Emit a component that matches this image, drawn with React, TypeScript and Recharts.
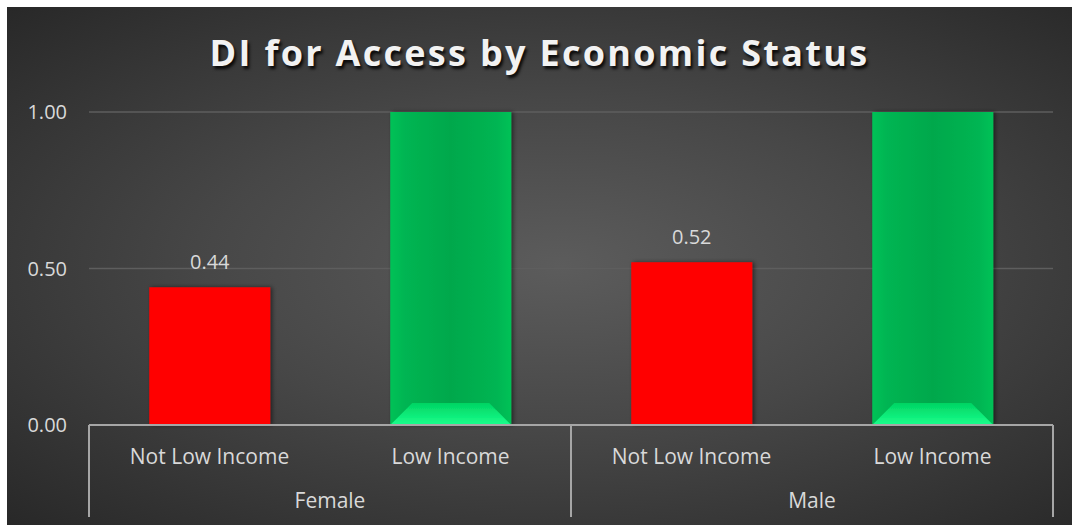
import { BarChart, Bar, XAxis, YAxis, CartesianGrid, Cell, LabelList } from 'recharts';

const incomeLabels = ['Not Low Income', 'Low Income', 'Not Low Income', 'Low Income'];
const genderLabels = ['Female', 'Female', 'Male', 'Male'];
const diValues = [0.44, 1.0, 0.52, 1.0];
const yTicks = [0, 0.5, 1];

const data = incomeLabels.map((income, i) => ({
  income,
  gender: genderLabels[i],
  di: diValues[i],
}));

const FONT = '"Open Sans", sans-serif';
const TEXT = '#d9d9d9';
const LINE = '#a6a6a6';

// bar with the Excel-ish bevel on the green ones
function BevelBar(props: any) {
  const { x, y, width, height, payload } = props;
  if (!height || height <= 0) return null;
  if (payload.di < 1) {
    return <rect x={x} y={y} width={width} height={height} fill="#ff0000" filter="url(#barShadow)" />;
  }
  const bev = 22;
  const by = y + height;
  return (
    <g filter="url(#barShadow)">
      <rect x={x} y={y} width={width} height={height} fill="url(#greenBody)" />
      <polygon
        points={`${x},${by} ${x + width},${by} ${x + width - bev},${by - bev} ${x + bev},${by - bev}`}
        fill="url(#greenBevel)"
      />
    </g>
  );
}

function TwoLevelTick(props: any) {
  const { x, y, payload, index } = props;
  const off = payload?.offset || 120;
  const group = genderLabels[index];
  const isLast = index === incomeLabels.length - 1 || genderLabels[index + 1] !== group;
  return (
    <g>
      <text x={x} y={y + 39} textAnchor="middle" fill={TEXT} fontSize={21} fontFamily={FONT}>
        {payload.value}
      </text>
      {index === 0 && <line x1={x - off} x2={x - off} y1={y} y2={y + 92} stroke={LINE} strokeWidth={2} />}
      {isLast && (
        <>
          <line x1={x + off} x2={x + off} y1={y} y2={y + 92} stroke={LINE} strokeWidth={2} />
          <text x={x - off} y={y + 83} textAnchor="middle" fill={TEXT} fontSize={21} fontFamily={FONT}>
            {group}
          </text>
        </>
      )}
    </g>
  );
}

function ValueLabel(props: any) {
  const { x, y, width, value } = props;
  if (value >= 1) return null;
  return (
    <text x={x + width / 2} y={y - 18} textAnchor="middle" fill={TEXT} fontSize={20} fontFamily={FONT}>
      {Number(value).toFixed(2)}
    </text>
  );
}

export default function App() {
  return (
    <div style={{ position: 'absolute', left: 0, top: 0, width: 1072, height: 527, background: '#fff' }}>
      <div
        style={{
          position: 'absolute',
          left: 7,
          top: 7,
          width: 1065,
          height: 518,
          background: 'radial-gradient(ellipse at 52% 50%, #5c5c5c 0%, #474747 45%, #282828 100%)',
        }}
      >
        <div
          style={{
            position: 'absolute',
            left: 0,
            width: 1065,
            top: 21,
            textAlign: 'center',
            fontFamily: FONT,
            fontWeight: 700,
            fontSize: 36,
            letterSpacing: 2.3,
            color: '#f2f2f2',
            textShadow: '2px 3px 3px rgba(0,0,0,0.85)',
          }}
        >
          DI for Access by Economic Status
        </div>
        <BarChart
          width={1065}
          height={518}
          data={data}
          margin={{ top: 105, right: 19, bottom: 7, left: 22 }}
          barCategoryGap="25%"
          style={{ position: 'absolute', left: 0, top: 0 }}
        >
          <defs>
            <linearGradient id="greenBody" x1="0" y1="0" x2="1" y2="0">
              <stop offset="0%" stopColor="#00c257" />
              <stop offset="12%" stopColor="#00b552" />
              <stop offset="50%" stopColor="#00a84c" />
              <stop offset="88%" stopColor="#00b552" />
              <stop offset="100%" stopColor="#00c257" />
            </linearGradient>
            <linearGradient id="greenBevel" x1="0" y1="0" x2="0" y2="1">
              <stop offset="0%" stopColor="#00d463" />
              <stop offset="100%" stopColor="#1aff8c" />
            </linearGradient>
            <filter id="barShadow" x="-10%" y="-10%" width="130%" height="130%">
              <feDropShadow dx="2" dy="0" stdDeviation="2" floodColor="#000" floodOpacity="0.5" />
            </filter>
          </defs>
          <CartesianGrid vertical={false} stroke="#5e5e5e" strokeWidth={1.5} />
          <XAxis
            dataKey="income"
            height={93}
            tickLine={false}
            tickSize={0}
            tickMargin={0}
            interval={0}
            axisLine={{ stroke: LINE, strokeWidth: 2 }}
            tick={<TwoLevelTick />}
          />
          <YAxis
            domain={[0, 1]}
            ticks={yTicks}
            width={60}
            axisLine={false}
            tickLine={false}
            tickSize={0}
            tickMargin={22}
            tickFormatter={(v: number) => v.toFixed(2)}
            tick={{ fill: TEXT, fontSize: 20, fontFamily: FONT }}
          />
          <Bar dataKey="di" shape={<BevelBar />} isAnimationActive={false}>
            {data.map((d, i) => (
              <Cell key={i} fill={d.di < 1 ? '#ff0000' : '#00b050'} />
            ))}
            <LabelList dataKey="di" content={<ValueLabel />} />
          </Bar>
        </BarChart>
      </div>
    </div>
  );
}
